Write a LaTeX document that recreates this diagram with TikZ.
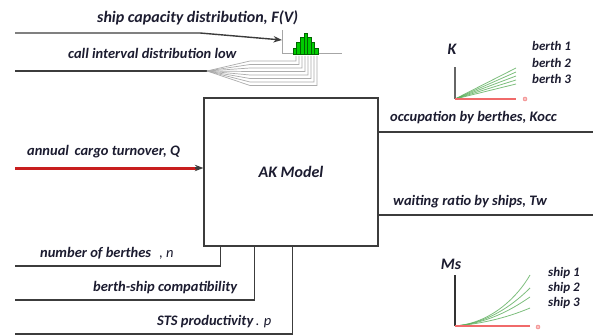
\documentclass[tikz,border=0pt]{standalone}
\usepackage{fontspec}
\setmainfont{Carlito}
\usetikzlibrary{arrows.meta,positioning,calc}
\definecolor{ink}{HTML}{1C1C30}
\definecolor{wire}{HTML}{3C3C3C}
\definecolor{cargo}{HTML}{C81E1E}
\definecolor{plotgreen}{HTML}{5DAF5D}
\definecolor{plotred}{HTML}{F06A6A}

\begin{document}
\begin{tikzpicture}[
  x=1pt, y=-1pt,
  lbl/.style={font=\bfseries\itshape\fontsize{14.5}{16}\selectfont, text=ink, inner sep=0pt, anchor=west},
  small/.style={lbl, font=\bfseries\itshape\fontsize{13}{14}\selectfont},
  model/.style={rectangle, draw=wire, line width=1.2pt, minimum width=174pt, minimum height=148pt,
    font=\bfseries\itshape\fontsize{16}{18}\selectfont, text=ink},
  wireline/.style={draw=wire, line width=1.4pt},
  fanline/.style={draw=gray!65, line width=0.7pt},
  axisv/.style={draw=gray!80!black, line width=1.6pt},
  axish/.style={draw=plotred, line width=1.6pt},
  curve/.style={draw=plotgreen, line width=0.8pt, opacity=0.8},
  arr/.style={-{Stealth[length=3mm]}},
]
  \useasboundingbox[fill=white] (0,0) rectangle (593,334);

  % central model
  \node[model] (ak) at (291,172) {AK Model};

  % input labels
  \node[lbl, font=\bfseries\itshape\fontsize{16}{18}\selectfont] (cap) at (97,18) {ship capacity distribution, F(V)};
  \node[lbl] (call) at (68,53) {call interval distribution low};
  \node[lbl] (turn) at (27,152) {annual\, cargo turnover, Q};
  \node[lbl] (nber) at (40,253) {number of berthes\,{\mdseries\, , n}};
  \node[lbl] (comp) at (93,288) {berth-ship compatibility};
  \node[lbl] (sts) at (157,322) {STS productivity\,{\mdseries . p}};

  % output labels
  \node[lbl] (occ) at (390,118) {occupation by berthes, Kocc};
  \node[lbl] (wait) at (393,202) {waiting ratio by ships, Tw};

  % ship capacity histogram
  \coordinate (hist) at (282,54);
  \draw[draw=gray!70, line width=1pt] (282,30) -- (hist) -- (342,54);
  \foreach \h [count=\i from 0] in {6,12,17,21,17,12,6}
    \draw[fill=green!80!black, draw=green!40!black, line width=0.3pt]
      ({293+3.6*\i},54) rectangle ({296.6+3.6*\i},{54-\h});

  % input connectors
  \coordinate (v0) at (15,33);
  \coordinate (v1) at (200,33);
  \draw[wireline, arr] (v0) -- (v1) -- ([yshift=14pt]hist);
  \coordinate (c0) at (15,71);
  \coordinate (c1) at (207,71);
  \draw[wireline] (c0) -- (c1);
  \foreach \fy [count=\i from 0] in {61,64.5,68,71.5,75,78.5,82,85.5}
    \draw[fanline] (c1) -- (250,\fy) -- ({296+3*\i},\fy) -- ({296+3*\i},56);
  \coordinate (q0) at (15,168);
  \draw[draw=cargo, line width=3pt] (q0) -- ([xshift=-6pt]q0 -| ak.west);
  \draw[wireline, arr] ([xshift=-8pt]q0 -| ak.west) -- (q0 -| ak.west);
  \coordinate (n0) at (15,266);
  \coordinate (b0) at (15,300);
  \coordinate (p0) at (15,334);
  \draw[wireline] (n0) -| ([xshift=17pt]ak.south west);
  \draw[wireline] (b0) -| ([xshift=51pt]ak.south west);
  \draw[wireline] (p0) -| ([xshift=89pt]ak.south west);

  % output connectors
  \coordinate (o1) at (593,132);
  \coordinate (o2) at (593,215);
  \draw[wireline] (o1 -| ak.east) -- (o1);
  \draw[wireline] (o2 -| ak.east) -- (o2);

  % K chart
  \node[lbl, anchor=center, font=\bfseries\itshape\fontsize{16}{18}\selectfont] (kax) at (452,49) {K};
  \coordinate (k0) at (455,99);
  \draw[axisv] (k0) -- (455,67);
  \foreach \e in {68,72,76,80,84}
    \draw[curve] (k0) -- (516,\e);
  \draw[axish] (k0) -- (516,99);
  \node[circle, draw=plotred, fill=plotred!40, inner sep=0pt, minimum size=4pt] (kq) at (525,99) {};
  \node[small] (b1) at (532,46) {berth 1};
  \node[small] (b2) at (532,63) {berth 2};
  \node[small] (b3) at (532,79) {berth 3};

  % Ms chart
  \node[lbl, anchor=center, font=\bfseries\itshape\fontsize{16}{18}\selectfont] (msax) at (451,264) {Ms};
  \coordinate (m0) at (455,326);
  \draw[axisv, draw=gray!40!black] (m0) -- (455,275);
  \foreach \e/\c in {275/296,288/300,297/305,308/313}
    \draw[curve] (m0) .. controls (492,323) and (518,{\c}) .. (530,\e);
  \draw[axish] (m0) -- (530,326);
  \node[circle, draw=plotred, fill=plotred!40, inner sep=0pt, minimum size=4pt] (mq) at (538,327) {};
  \node[small] (s1) at (548,273) {ship 1};
  \node[small] (s2) at (548,288) {ship 2};
  \node[small] (s3) at (548,303) {ship 3};
\end{tikzpicture}
\end{document}
